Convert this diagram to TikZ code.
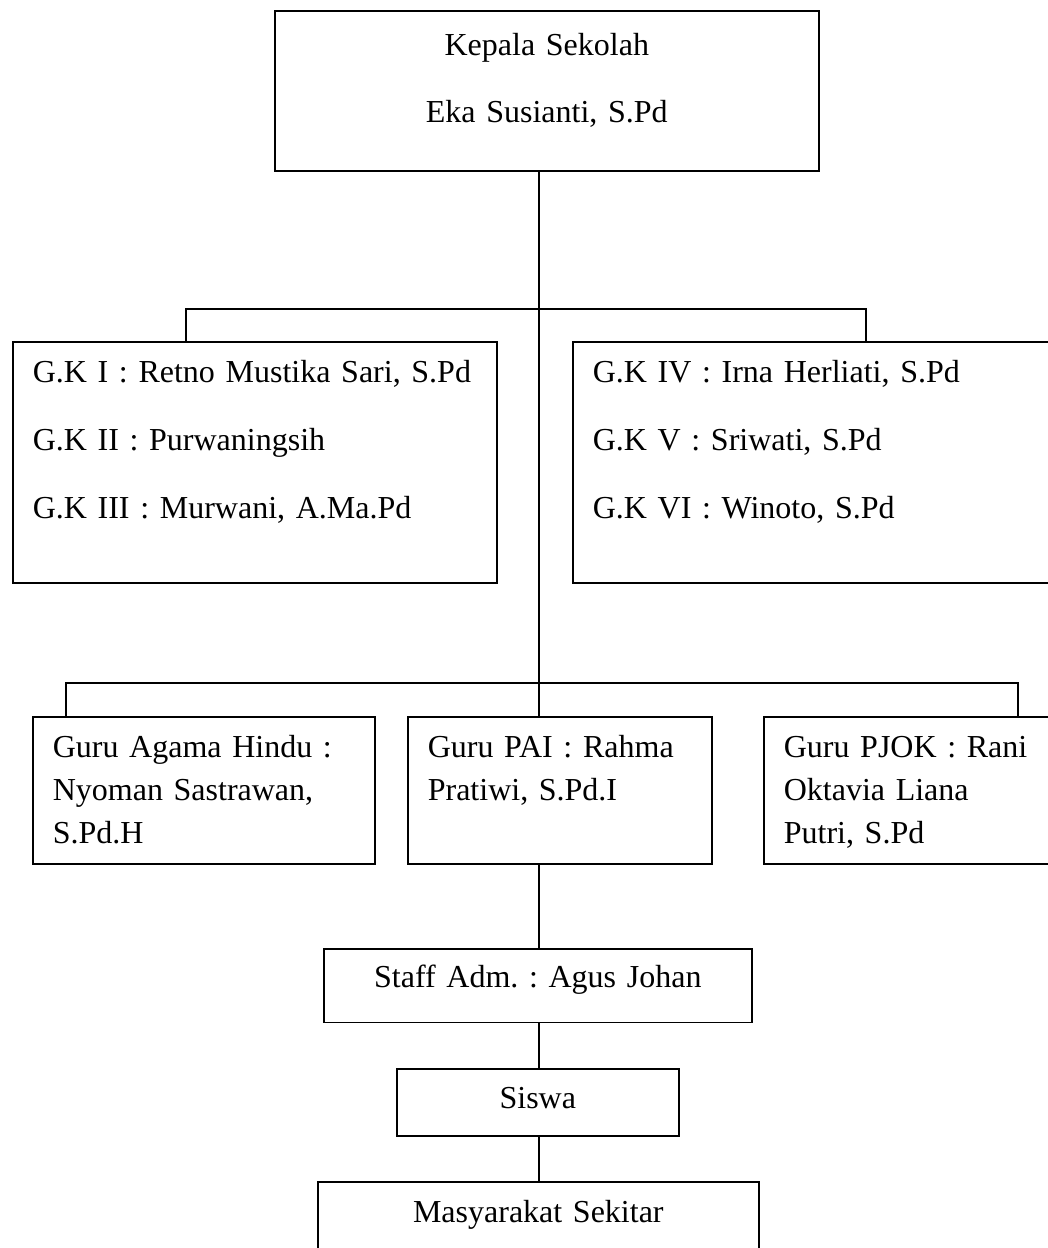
\documentclass[tikz,border=0pt]{standalone}
\usepackage{fontspec}
\setmainfont{Liberation Serif}[WordSpace=0.7]
\usepackage{tikz}
\frenchspacing

\begin{document}
\begin{tikzpicture}[x=0.375pt,y=-0.375pt,line width=0.6pt,
box/.style={draw,rectangle,anchor=north west,inner xsep=7.5pt,inner ysep=0pt,align=left},
midbox/.style={box,align=center}]
\useasboundingbox (0,0) rectangle (1048,1248);
\clip (0,0) rectangle (1048,1248);
% kepala sekolah
\node (kepsek) [midbox,text width=189pt,text height=16.9pt,text depth=43.1pt,
    font=\fontsize{12}{25}\selectfont] at (274,10) {Kepala Sekolah\\Eka Susianti, S.Pd};
% guru kelas
\node (gkkiri) [box,text width=166.5pt,text height=15.4pt,text depth=75pt,
    font=\fontsize{12}{25.5}\selectfont] at (12,341)
    {G.K I : Retno Mustika Sari, S.Pd\\G.K II : Purwaningsih\\G.K III : Murwani, A.Ma.Pd};
\node (gkkanan) [box,text width=166.5pt,text height=15.4pt,text depth=75pt,
    font=\fontsize{12}{25.5}\selectfont] at (572,341)
    {G.K IV : Irna Herliati, S.Pd\\G.K V : Sriwati, S.Pd\\G.K VI : Winoto, S.Pd};
% guru mapel
\node (hindu) [box,text width=113.25pt,text height=15.4pt,text depth=39.75pt,
    font=\fontsize{12}{16}\selectfont] at (32,716)
    {Guru Agama Hindu :\\Nyoman Sastrawan,\\S.Pd.H};
\node (pai) [box,text width=99pt,text height=15.4pt,text depth=39.75pt,
    font=\fontsize{12}{16}\selectfont] at (407,716)
    {Guru PAI : Rahma\\Pratiwi, S.Pd.I};
\node (pjok) [box,text width=99pt,text height=15.4pt,text depth=39.75pt,
    font=\fontsize{12}{16}\selectfont] at (763,716)
    {Guru PJOK : Rani\\Oktavia Liana\\Putri, S.Pd};
% staff, siswa, masyarakat
\node (staff) [midbox,text width=145.5pt,text height=14.6pt,text depth=13.1pt,
    font=\fontsize{12}{14}\selectfont] at (323,948) {Staff Adm. : Agus Johan};
\node (siswa) [midbox,text width=90.75pt,text height=15pt,text depth=10.1pt,
    font=\fontsize{12}{14}\selectfont] at (396,1068) {Siswa};
\node (masy) [midbox,text width=150.4pt,text height=15.4pt,text depth=30pt,
    font=\fontsize{12}{14}\selectfont] at (317,1181) {Masyarakat Sekitar};

\coordinate (cab1) at (539,309);
\coordinate (cab1kiri) at (186,309);
\coordinate (cab1kanan) at (866,309);
\coordinate (cab2) at (539,683);
\coordinate (cab2kiri) at (66,683);
\coordinate (cab2kanan) at (1018,683);

\draw (kepsek.south -| cab1) -- (cab1) -- (cab2) -- (pai.north -| cab2);
\draw (gkkiri.north -| cab1kiri) -- (cab1kiri) -- (cab1kanan) -- (gkkanan.north -| cab1kanan);
\draw (hindu.north -| cab2kiri) -- (cab2kiri) -- (cab2kanan) -- (pjok.north -| cab2kanan);
\draw (pai.south -| cab2) -- (staff.north -| cab2);
\draw (staff.south -| cab2) -- (siswa.north -| cab2);
\draw (siswa.south -| cab2) -- (masy.north -| cab2);
\end{tikzpicture}
\end{document}
